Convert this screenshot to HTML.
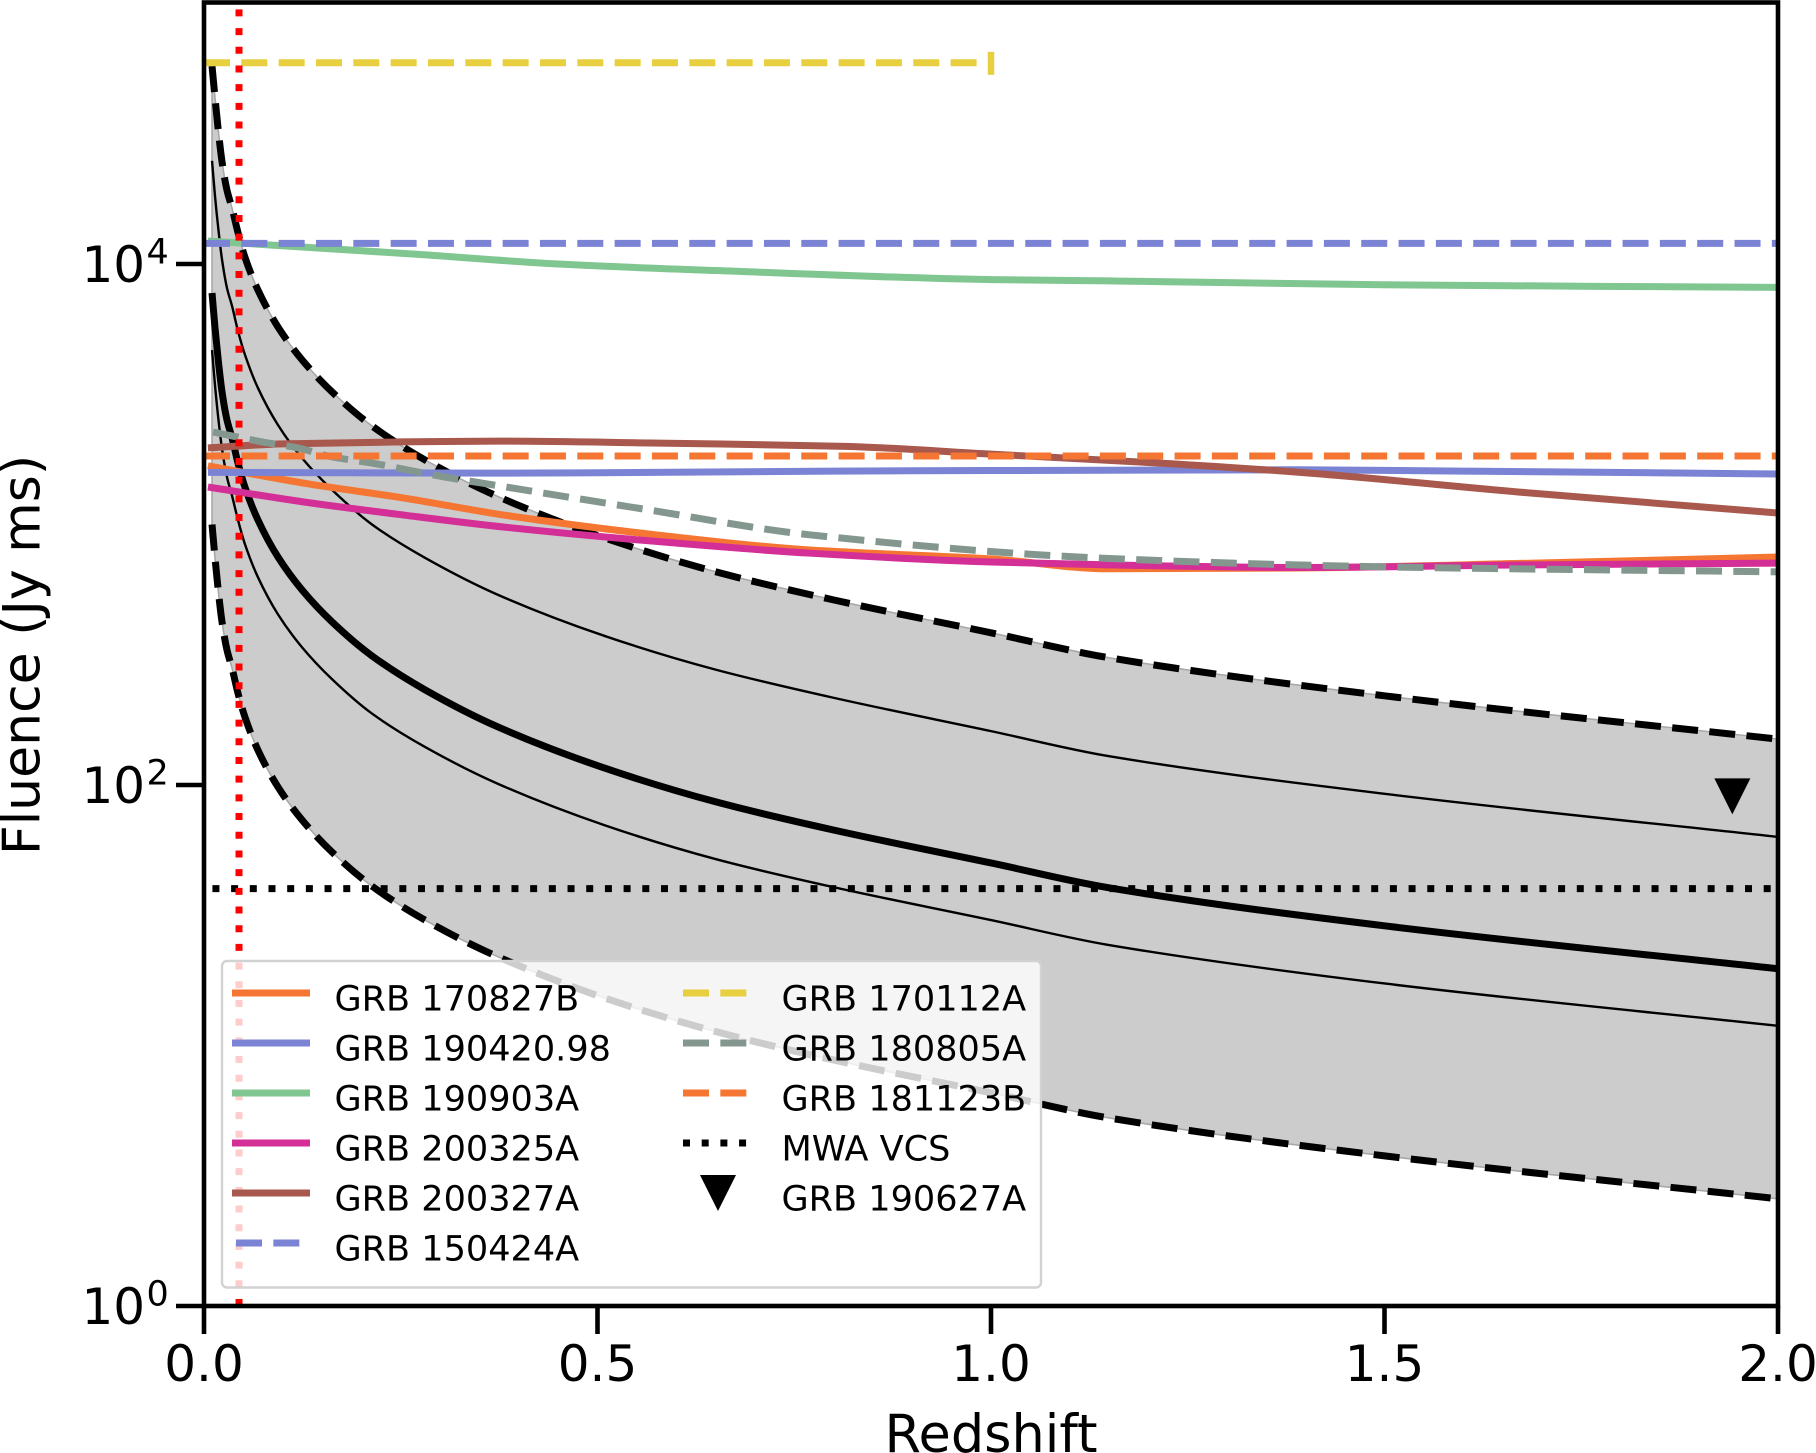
<!DOCTYPE html>
<html>
<head>
<meta charset="utf-8">
<title>Fluence vs Redshift</title>
<style>
html,body{margin:0;padding:0;background:#fff;width:1816px;height:1453px;overflow:hidden}
svg{display:block}
text{font-family:"DejaVu Sans",sans-serif;fill:#000}
</style>
</head>
<body>
<svg id="chart" xmlns="http://www.w3.org/2000/svg" width="1816" height="1453" viewBox="0 0 1816 1453"></svg>
<script>
// ---- curve data ----
const bandZ = [0.0102,0.014,0.0178,0.0229,0.0292,0.0356,0.0432,0.0521,0.0686,0.094,0.1245,0.1626,0.2135,0.2808,0.3736,0.5095,0.6506,0.8005,1,1.15,1.5,2];
const bandUpper = [57500,43400,33300,24700,19200,16400,13200,10600,7940,5730,4290,3230,2390,1770,1280,887,658,513,384,308,220,150];
const thinUpper = [24900,18200,14000,10400,8090,6900,5530,4480,3340,2410,1800,1360,1000,745,537,373,277,216,161,129,92.5,63.2];
const median = [7740,5680,4360,3230,2520,2150,1720,1390,1040,750,561,423,313,232,167,116,86.1,67.1,50.2,40.3,28.8,19.7];
const thinLower = [4670,3420,2620,1950,1520,1290,1040,839,627,452,338,255,188,140,101,70,51.9,40.5,30.3,24.3,17.3,11.9];
const bandLower = [1000,743,570,423,330,281,225,182,136,98.2,73.5,55.3,40.9,30.3,21.9,15.2,11.3,8.79,6.58,5.27,3.77,2.58];

const z170827B = [0.005,0.128,0.255,0.382,0.567,0.77,1,1.15,1.39,1.69,2];
const f170827B = [1680,1439,1262,1086,918,798,738,676,681,711,750];
const z190420 = [0.005,0.36,0.8,1,1.39,1.6,2];
const f190420 = [1585,1574,1603,1611,1622,1603,1563];
const z190903A = [0.005,0.27,0.45,0.65,1,1.15,1.5,2];
const f190903A = [12250,10900,10000,9440,8710,8610,8320,8130];
const z200325A = [0.005,0.128,0.255,0.382,0.567,0.77,1,1.15,1.39,1.69,2];
const f200325A = [1393,1219,1086,977,865,776,718,700,684,700,711];
const z200327A = [0.005,0.1,0.25,0.376,0.567,0.815,1,1.212,1.393,1.689,2];
const f200327A = [1968,2040,2075,2089,2056,1995,1862,1722,1585,1318,1107];
const z180805A = [0.0114,0.074,0.119,0.163,0.213,0.259,0.306,0.353,0.557,0.771,1.139,1.507,2];
const f180805A = [2265,2075,1968,1816,1722,1618,1521,1442,1148,912,743,687,658];

const z150424A = [0,2];
const f150424A = [12000,12000];
const z170112A = [0,1];
const f170112A = [59200,59200];
const z181123B = [0,2];
const f181123B = [1832,1832];
const zMWA = [0.0107,2];
const fMWA = [40,40];
const redshiftMarker = [0.0445];
const grb190627z = [1.942];
const grb190627f = [90.4];

const xTicks = [0,0.5,1,1.5,2];
const xTickLabels = ['0.0','0.5','1.0','1.5','2.0'];
const yTicks = [1,100,10000];
const yTickExponents = ['0','2','4'];
const legendLeft = ['GRB 170827B','GRB 190420.98','GRB 190903A','GRB 200325A','GRB 200327A','GRB 150424A'];
const legendRight = ['GRB 170112A','GRB 180805A','GRB 181123B','MWA VCS','GRB 190627A'];

// ---- axes ----
const NS = 'http://www.w3.org/2000/svg';
const svg = document.getElementById('chart');
const L = 204, R = 1778, B = 1306, T = 3.5;
const X = z => L + (R - L) * z / 2;
const Y = f => B - (B - T) * Math.log10(f) / 5;

function make(tag, attrs, parent) {
  const e = document.createElementNS(NS, tag);
  for (const k in attrs) e.setAttribute(k, attrs[k]);
  (parent || svg).appendChild(e);
  return e;
}
// Monotone cubic segments through the mapped data points.
function segments(zs, fs) {
  const xs = zs.map(X), ys = fs.map(Y), n = xs.length;
  const sec = [];
  for (let i = 0; i < n - 1; i++) sec.push((ys[i + 1] - ys[i]) / (xs[i + 1] - xs[i]));
  const m = [sec[0]];
  for (let i = 1; i < n - 1; i++) {
    m.push(sec[i - 1] * sec[i] <= 0 ? 0 : 2 * sec[i - 1] * sec[i] / (sec[i - 1] + sec[i]));
  }
  m.push(sec[n - 2]);
  let d = '';
  for (let i = 0; i < n - 1; i++) {
    const h = (xs[i + 1] - xs[i]) / 3;
    d += ' C' + (xs[i] + h).toFixed(2) + ',' + (ys[i] + m[i] * h).toFixed(2) + ' ' +
         (xs[i + 1] - h).toFixed(2) + ',' + (ys[i + 1] - m[i + 1] * h).toFixed(2) + ' ' +
         xs[i + 1].toFixed(2) + ',' + ys[i + 1].toFixed(2);
  }
  return {start: xs[0].toFixed(2) + ',' + ys[0].toFixed(2), d: d};
}
function curve(zs, fs, color, width, dash, parent) {
  const s = segments(zs, fs);
  const attrs = {d: 'M' + s.start + s.d, fill: 'none', stroke: color, 'stroke-width': width, 'stroke-linejoin': 'round'};
  if (dash) attrs['stroke-dasharray'] = dash;
  return make('path', attrs, parent);
}

const defs = make('defs', {});
const clip = make('clipPath', {id: 'plot-clip'}, defs);
make('rect', {x: L, y: T, width: R - L, height: B - T}, clip);
const plot = make('g', {'clip-path': 'url(#plot-clip)'});



const DASH = '26 11.33';
const DOT = '7 11.69';
const LW = 7;

// ---- band ----
const upSeg = segments(bandZ, bandUpper);
const lowSeg = segments(bandZ.slice().reverse(), bandLower.slice().reverse());
const band = make('path', {d: 'M' + upSeg.start + upSeg.d + ' L' + lowSeg.start + lowSeg.d + ' Z', fill: '#cccccc', stroke: '#a8a8a8', 'stroke-width': 1.6}, plot);



const upperLine = curve(bandZ, bandUpper, '#000', LW, DASH, plot);


const lowerLine = curve(bandZ, bandLower, '#000', LW, DASH, plot);


const thinUp = curve(bandZ, thinUpper, '#000', 2.4, null, plot);


const thinLow = curve(bandZ, thinLower, '#000', 2.4, null, plot);


const medianLine = curve(bandZ, median, '#000', LW, null, plot);



// ---- series ----
const ORANGE = '#f57632', BLUE = '#7b83d4', GREEN = '#80c691', MAGENTA = '#d42e97', BROWN = '#a8584c', YELLOW = '#e8cf40', GREY = '#84978f';

const s1 = curve(z170827B, f170827B, ORANGE, LW, null, plot);


const s2 = curve(z190420, f190420, BLUE, LW, null, plot);


const s3 = curve(z190903A, f190903A, GREEN, LW, null, plot);


const s4 = curve(z200325A, f200325A, MAGENTA, LW, null, plot);


const s5 = curve(z200327A, f200327A, BROWN, LW, null, plot);


const s6 = curve(z150424A, f150424A, BLUE, LW, DASH, plot);


const s7 = curve(z170112A, f170112A, YELLOW, LW, DASH, plot);


const s7end = make('line', {x1: X(z170112A[1]), x2: X(z170112A[1]), y1: Y(f170112A[1]) - 11, y2: Y(f170112A[1]) + 12, stroke: YELLOW, 'stroke-width': 6.5}, plot);


const s8 = curve(z180805A, f180805A, GREY, LW, DASH, plot);


const s9 = curve(z181123B, f181123B, ORANGE, LW, DASH, plot);


const s10 = curve(zMWA, fMWA, '#000', LW, DOT, plot);



function triangle(cx, cy, parent) {
  return make('polygon', {points: (cx - 18) + ',' + (cy - 18) + ' ' + (cx + 18) + ',' + (cy - 18) + ' ' + cx + ',' + (cy + 18), fill: '#000'}, parent);
}
const marker = triangle(X(grb190627z[0]), Y(grb190627f[0]), plot);



const redLine = make('line', {x1: X(redshiftMarker[0]), x2: X(redshiftMarker[0]), y1: B, y2: T, stroke: '#ff0000', 'stroke-width': LW, 'stroke-dasharray': '7 11.69'}, plot);



// ---- spines and ticks ----
const frame = make('rect', {x: L, y: T - 1, width: R - L, height: B - T + 1, fill: 'none', stroke: '#000', 'stroke-width': 4.6});



xTicks.forEach((t, i) => {
  const tick = make('line', {x1: X(t), x2: X(t), y1: B, y2: B + 28, stroke: '#000', 'stroke-width': 4.6});
  
  
  const lab = make('text', {x: X(t), y: 1381, 'font-size': 50, 'text-anchor': 'middle'});
  lab.textContent = xTickLabels[i];
  
  
});
yTicks.forEach((t, i) => {
  const yy = Y(t);
  const tick = make('line', {x1: L - 28, x2: L, y1: yy, y2: yy, stroke: '#000', 'stroke-width': 4.6});
  
  
  const lab = make('text', {x: 81.5, y: yy + 18, 'font-size': 50});
  lab.textContent = '10';
  
  
  const sup = make('text', {x: 146.5, y: yy - 0.5, 'font-size': 35});
  sup.textContent = yTickExponents[i];
  
  
});

const xTitle = make('text', {x: 991, y: 1452, 'font-size': 52.5, 'text-anchor': 'middle'});
xTitle.textContent = 'Redshift';


const yTitle = make('text', {x: 0, y: 0, 'font-size': 52, 'text-anchor': 'middle', transform: 'translate(39.5,655) rotate(-90)'});
yTitle.textContent = 'Fluence (Jy ms)';



// ---- legend ----
const legend = make('g', {});


const legendBox = make('rect', {x: 222, y: 961, width: 819, height: 326.5, rx: 5, ry: 5, fill: 'rgba(255,255,255,0.8)', stroke: '#d2d2d2', 'stroke-width': 2.4}, legend);



const leftStyles = [[ORANGE, null], [BLUE, null], [GREEN, null], [MAGENTA, null], [BROWN, null], [BLUE, DASH]];
const rightStyles = [[YELLOW, DASH], [GREY, DASH], [ORANGE, DASH], ['#000', DOT]];

legendLeft.forEach((name, i) => {
  const yy = 993 + 50 * i;
  const dashed = leftStyles[i][1];
  const a = {x1: dashed ? 236 : 232, x2: dashed ? 300 : 310, y1: yy, y2: yy, stroke: leftStyles[i][0], 'stroke-width': LW};
  if (dashed) a['stroke-dasharray'] = dashed;
  const h = make('line', a, legend);
  
  
  const txt = make('text', {x: 334.5, y: yy + 17.5, 'font-size': 35.1}, legend);
  txt.textContent = name;
  
  
});
legendRight.forEach((name, i) => {
  const yy = 993 + 50 * i;
  if (i < rightStyles.length) {
    const h = make('line', {x1: 683, x2: 748, y1: yy, y2: yy, stroke: rightStyles[i][0], 'stroke-width': LW, 'stroke-dasharray': rightStyles[i][1]}, legend);
    
    
  } else {
    const h = triangle(718, yy, legend);
    
    
  }
  const txt = make('text', {x: 781.5, y: yy + 17.5, 'font-size': 35.1}, legend);
  txt.textContent = name;
  
  
});
</script>
</body>
</html>
